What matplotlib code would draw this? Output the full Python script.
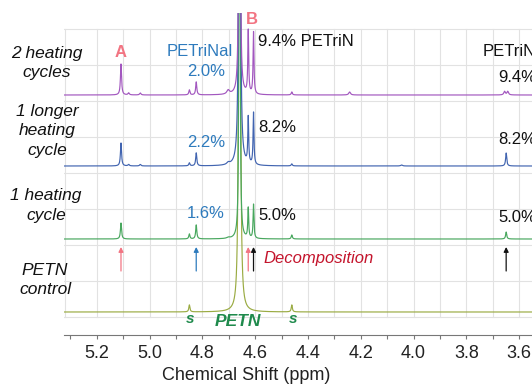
import numpy as np
import matplotlib
matplotlib.use("Agg")
import matplotlib.pyplot as plt
from matplotlib.ticker import MultipleLocator, FormatStrFormatter

plt.rcParams['font.family'] = ['Liberation Sans', 'DejaVu Sans']

W, H, DPI = 532, 384, 100

# ---------------- data ----------------
series_labels = ["2 heating\ncycles", "1 longer\nheating\ncycle", "1 heating\ncycle", "PETN\ncontrol"]
series_colors = ["#a257bf", "#4164b0", "#48a75e", "#9aab42"]
baselines = [289, 218, 145, 72]          # vertical offset of each trace (display units)

# peak positions (ppm)
peak_ppm = [5.108, 5.079, 5.035, 4.849, 4.823, 4.702, 4.659, 4.626, 4.606,
            4.461, 4.242, 4.045, 3.655, 3.649, 3.643]
# half widths (ppm)
peak_hw = [0.0025, 0.003, 0.003, 0.0025, 0.0025, 0.006, None, 0.002, 0.002,
           0.0025, 0.004, 0.004, 0.0035, 0.0025, 0.0035]
# heights per trace (display units)
h_two_cycles = [31, 2, 2, 5, 13, 4, 2000, 63, 62, 3, 3, 0, 3.5, 0, 3.5]
h_longer     = [23, 1.5, 1.5, 3, 13, 2, 2000, 46, 52, 2, 0, 1, 0, 13, 0]
h_one_cycle  = [16, 0, 0, 5, 14, 1, 2000, 30, 34, 4, 0, 0, 0, 7, 0]
h_control    = [0, 0, 0, 7, 0, 0, 5000, 0, 0, 7, 0, 0, 0, 0, 0]
petn_hw = [0.00115, 0.0015, 0.001, 0.00105]   # PETN main line half width per trace
heights = [h_two_cycles, h_longer, h_one_cycle, h_control]

x_ticks_major = [5.2, 5.0, 4.8, 4.6, 4.4, 4.2, 4.0, 3.8, 3.6]
pct_petrinal = ["2.0%", "2.2%", "1.6%"]
pct_petrin = ["9.4%", "8.2%", "5.0%"]

# ---------------- figure ----------------
fig = plt.figure(figsize=(W / DPI, H / DPI), dpi=DPI)
ax_left, ax_right, ax_top, ax_bot = 64, 560, 13, 335
ax = fig.add_axes([ax_left / W, (H - ax_bot) / H, (ax_right - ax_left) / W, (ax_bot - ax_top) / H])

def px2ppm(px):
    return 5.0 - (px - 149.5) / 264.0

ax.set_xlim(px2ppm(ax_left), px2ppm(ax_right))
ax.set_ylim(H - ax_bot, H - ax_top)

# grid
grid_c = "#e2e2e2"
hy = [H - y for y in (29, 65, 101, 137, 173, 209, 245, 281, 317)]
for y in hy:
    ax.axhline(y, color=grid_c, lw=0.8, zorder=0)
vx = np.round(np.arange(5.2, 3.39, -0.1), 2)
for x in vx:
    ax.plot([x, x], [hy[-1], hy[0]], color=grid_c, lw=0.8, zorder=0)
ax.plot([px2ppm(65), px2ppm(65)], [hy[-1], hy[0]], color=grid_c, lw=0.8, zorder=0)

# spectra
xs = np.linspace(px2ppm(ax_left), px2ppm(ax_right), 40000)
for i in range(4)[::-1]:
    y = np.full_like(xs, baselines[i], dtype=float)
    for p, w, h in zip(peak_ppm, peak_hw, heights[i]):
        if h == 0:
            continue
        if w is None:
            w = petn_hw[i]
        y += h * w ** 2 / ((xs - p) ** 2 + w ** 2)
    ax.plot(xs, y, color=series_colors[i], lw=0.85, zorder=3 + (3 - i) * 0.1)

# axis style
for s in ("left", "right", "top"):
    ax.spines[s].set_visible(False)
ax.spines["bottom"].set_color("#777777")
ax.spines["bottom"].set_linewidth(0.8)
ax.set_yticks([])
ax.set_xticks(x_ticks_major)
ax.xaxis.set_major_formatter(FormatStrFormatter("%.1f"))
ax.xaxis.set_minor_locator(MultipleLocator(0.1))
ax.tick_params(axis="x", which="both", direction="out", length=3, width=0.8, color="#777777",
               labelsize=13, pad=4, labelcolor="#222222")
ax.set_xlabel("Chemical Shift (ppm)", fontsize=13, color="#222222", labelpad=2)
ax.xaxis.set_label_coords((246.5 - ax_left) / (ax_right - ax_left), -(375 - ax_bot) / (ax_bot - ax_top))
ax.xaxis.label.set_verticalalignment("center")

def ft(x, y, s, **kw):
    fig.text(x / W, 1 - y / H, s, **kw)

# left labels
left_pos = [(47, 63), (47, 131), (46, 205.5), (45, 280)]
for (x, y), lab in zip(left_pos, series_labels):
    ft(x, y, lab, ha="center", va="center", fontsize=12.5, style="italic",
       linespacing=1.4, color="#111111")

pink = "#f27482"
blue = "#2e7bbd"
green = "#1f8a4c"
dred = "#c4142c"

ft(121, 52.5, "A", ha="center", va="center", fontsize=12, fontweight="bold", color=pink)
ft(252, 19, "B", ha="center", va="center", fontsize=12, fontweight="bold", color=pink)
ft(200, 52, "PETriNal", ha="center", va="center", fontsize=12, color=blue)
for y, s in zip((71, 143, 214), pct_petrinal):
    ft(206, y, s, ha="center", va="center", fontsize=12, color=blue)
ft(258, 41, pct_petrin[0] + " PETriN", ha="left", va="center", fontsize=12, color="#111111")
ft(258, 127, pct_petrin[1], ha="left", va="center", fontsize=12, color="#111111")
ft(258, 215, pct_petrin[2], ha="left", va="center", fontsize=12, color="#111111")
ft(483, 52, "PETriN", ha="left", va="center", fontsize=12, color="#111111")
for y, s in zip((77, 140, 217), pct_petrin):
    ft(498, y, s, ha="left", va="center", fontsize=12, color="#111111")
ft(263, 258, "Decomposition", ha="left", va="center", fontsize=12, style="italic", color=dred)
ft(190, 319, "s", ha="center", va="center", fontsize=11, fontweight="bold", style="italic", color=green)
ft(293, 319, "s", ha="center", va="center", fontsize=11, fontweight="bold", style="italic", color=green)
ft(238, 322, "PETN", ha="center", va="center", fontsize=12.5, fontweight="bold", style="italic", color=green)

# arrows
arrow_targets = [(peak_ppm[0], pink), (peak_ppm[4], blue), (peak_ppm[7], pink),
                 (peak_ppm[8], "#111111"), (peak_ppm[13], "#111111")]
for p, c in arrow_targets:
    ax.annotate("", xy=(p, H - 247), xytext=(p, H - 271),
                arrowprops=dict(arrowstyle="-|>", color=c, lw=0.9, mutation_scale=7,
                                shrinkA=0, shrinkB=0), zorder=5)

fig.savefig("out.png", dpi=DPI)
